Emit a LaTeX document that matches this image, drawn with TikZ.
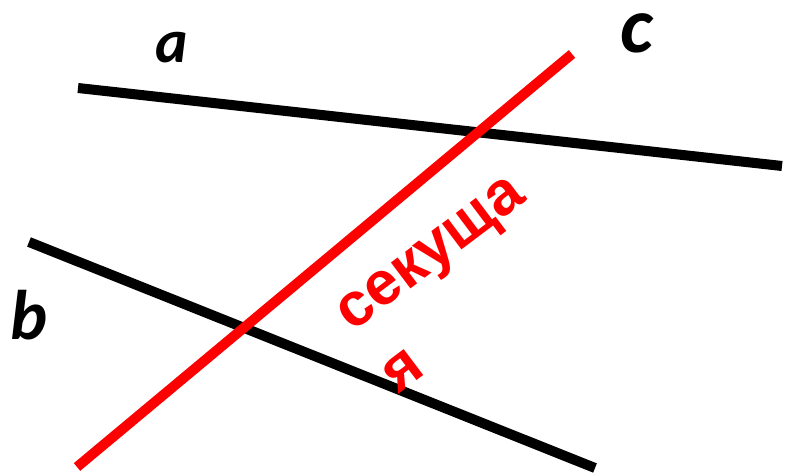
\documentclass[tikz,border=0pt]{standalone}
\usepackage{fontspec}
\setmainfont{Liberation Sans}
\newfontfamily\calfont{Carlito}
\begin{document}
\begin{tikzpicture}[
        x=0.02cm, y=-0.02cm,
        pryamaya/.style={line width=5.7pt, black},
        sekush/.style={line width=5.7pt, red},
        bukva/.style={font=\calfont\bfseries\itshape, inner sep=0pt},
        podpis/.style={red, font=\bfseries\fontsize{35}{44}\selectfont, align=left, inner sep=0pt, rotate=37}
    ]
        \useasboundingbox (0,0) rectangle (785,475);
        % концы прямых
        \coordinate (a1) at (78,88);
        \coordinate (a2) at (782,166);
        \coordinate (b1) at (29,242);
        \coordinate (b2) at (595,468);
        \coordinate (c1) at (77,467);
        \coordinate (c2) at (572,54);

        \draw[pryamaya] (a1) -- (a2);
        \draw[pryamaya] (b1) -- (b2);
        \draw[sekush] (c1) -- (c2);

        \node[bukva, font=\calfont\bfseries\itshape\fontsize{35}{40}\selectfont] (la) at (172,48) {a};
        \node[bukva, font=\calfont\bfseries\itshape\fontsize{40}{46}\selectfont] (lb) at (29,315) {b};
        \node[bukva, font=\calfont\bfseries\itshape\fontsize{45}{50}\selectfont] (lc) at (637,33) {c};
        \node[podpis, anchor=north west] (sek) at (332,306) {секуща\\я};
    \end{tikzpicture}
\end{document}
